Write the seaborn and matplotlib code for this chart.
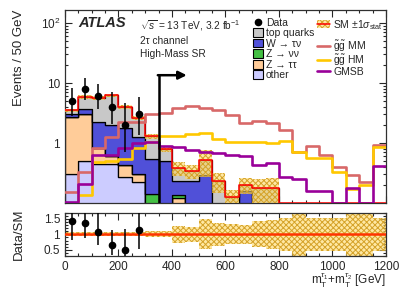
import numpy as np
import pandas as pd
import matplotlib
matplotlib.use("Agg")
import matplotlib.pyplot as plt
import seaborn as sns
from matplotlib.patches import Patch
from matplotlib.lines import Line2D
from matplotlib.ticker import FuncFormatter, MultipleLocator, LogLocator, NullFormatter, FixedLocator

# ---------------- data ----------------
bin_width = 50
x_max = 1200
processes = ["top quarks", "W \u2192 \u03c4\u03bd", "Z \u2192 \u03bd\u03bd", "Z \u2192 \u03c4\u03c4", "other"]

top_quarks = [0.40, 2.20, 3.33, 4.20, 2.24, 1.33, 0.75, 0.30, 0.15, 0.105, 0.23, 0.18,
              0.055, 0.04, 0.10, 0.08, 0.03, 0.015, 0.015, 0.015, 0.015, 0.01, 0.01, 0.01]
w_taunu = [0.40, 0.60, 1.45, 1.40, 1.33, 0.96, 0.41, 0.43, 0.095, 0.195, 0.27, 0.04,
           0.06, 0.15, 0.06, 0.08, 0.02, 0.01, 0.015, 0.015, 0.01, 0.005, 0.005, 0.01]
z_nunu = [0.0, 0.0, 0.0, 0.0, 0.0, 0.0, 0.06, 0.01, 0.015, 0.0, 0.0, 0.0,
          0.0, 0.0, 0.0, 0.0, 0.0, 0.0, 0.0, 0.0, 0.0, 0.0, 0.0, 0.0]
z_tautau = [2.40, 2.60, 0.37, 0.15, 0.16, 0.083, 0.03, 0.02, 0.03, 0.01, 0.0, 0.0,
            0.0, 0.0, 0.0, 0.0, 0.0, 0.0, 0.0, 0.0, 0.0, 0.0, 0.0, 0.0]
other = [0.30, 0.50, 0.45, 0.45, 0.27, 0.227, 0.05, 0.04, 0.09, 0.03, 0.02, 0.01,
         0.01, 0.01, 0.015, 0.02, 0.01, 0.005, 0.01, 0.01, 0.005, 0.005, 0.005, 0.01]

sm_stat_rel = [0.065, 0.065, 0.065, 0.065, 0.065, 0.065, 0.10, 0.10, 0.27, 0.25, 0.48, 0.37,
               0.32, 0.30, 0.42, 0.47, 0.54, 0.75, 0.54, 0.54, 0.54, 0.75, 0.75, 0.54]

gg_mm = [0.154, 0.33, 0.82, 1.27, 2.27, 2.27, 3.0, 3.2, 3.85, 4.1, 3.9, 3.5,
         2.9, 2.15, 2.3, 2.18, 1.65, 0.72, 0.89, 0.63, 0.40, 0.29, 0.227, 0.93]
gg_hm = [0.05, 0.136, 0.49, 0.5, 0.55, 0.82, 1.05, 1.3, 1.3, 1.4, 1.45, 1.15,
         1.02, 1.02, 1.05, 1.0, 1.08, 0.72, 0.57, 0.57, 0.33, 0.17, 0.2, 0.87]
gmsb = [0.105, 0.21, 0.63, 0.63, 0.82, 1.0, 1.02, 0.89, 0.85, 0.76, 0.72, 0.67,
        0.63, 0.6, 0.43, 0.47, 0.27, 0.25, 0.16, 0.16, 0.0, 0.18, 0.0, 0.42]

data_counts = [5, 8, 6, 4, 2, 3]
data_err_lo = [2.16, 2.77, 2.38, 1.91, 1.29, 1.63]
data_err_hi = [3.38, 3.94, 3.58, 3.16, 2.64, 2.92]

cut_value = 350

# ---------------- style ----------------
sns.set_theme(style="ticks")
plt.rcParams["font.family"] = ["Liberation Sans", "DejaVu Sans"]
plt.rcParams["mathtext.fontset"] = "custom"
plt.rcParams["mathtext.rm"] = "Liberation Sans"
plt.rcParams["mathtext.it"] = "Liberation Sans:italic"
plt.rcParams["mathtext.bf"] = "Liberation Sans:bold"
plt.rcParams["hatch.linewidth"] = 0.7

colors = {"top quarks": "#c8c8c8", processes[1]: "#5050d8", processes[2]: "#44c044",
          processes[3]: "#ffcc99", "other": "#ccccff"}
c_mm, c_hm, c_gmsb = "#d86868", "#ffc800", "#990099"
band_face = (1.0, 0.85, 0.40, 0.6)
band_hatch = "#d5a228"
band_pattern = "xxxxxx"

edges = np.arange(0, x_max + bin_width, bin_width)
centers = edges[:-1] + bin_width / 2
nb = len(centers)
y_low, y_high = 0.1, 165

fig = plt.figure(figsize=(4.07, 2.92), dpi=100)
ax = fig.add_axes([0.1597, 0.3048, 0.7887, 0.661])
ax2 = fig.add_axes([0.1597, 0.1233, 0.7887, 0.1483], sharex=ax)

# stacked backgrounds
comp = {"top quarks": top_quarks, processes[1]: w_taunu, processes[2]: z_nunu,
        processes[3]: z_tautau, "other": other}
df = pd.DataFrame({
    "x": np.concatenate([centers] * len(processes)),
    "w": np.concatenate([comp[p] for p in processes]),
    "process": np.repeat(processes, nb),
})
sns.histplot(data=df, x="x", weights="w", hue="process", hue_order=processes,
             bins=edges.tolist(), multiple="stack", element="step", palette=colors,
             alpha=1, linewidth=0.9, edgecolor="black", legend=False, ax=ax)
ax.set_yscale("log")

sm = np.sum([np.array(comp[p]) for p in processes], axis=0)
rel = np.array(sm_stat_rel)

def stepped(v):
    v = np.asarray(v, dtype=float)
    return np.append(v, v[-1])

# SM stat band + line
ax.fill_between(edges, stepped(sm * (1 - rel)), stepped(sm * (1 + rel)), step="post",
                facecolor=band_face, hatch=band_pattern, edgecolor=band_hatch, linewidth=0, zorder=3)
ax.step(edges, stepped(np.maximum(sm, y_low * 1.01)), where="post", color="#ff0000", lw=1.1, zorder=4)

# signals
for vals, c in [(gg_mm, c_mm), (gg_hm, c_hm), (gmsb, c_gmsb)]:
    sns.lineplot(x=edges, y=stepped(np.maximum(vals, y_low * 1.01)), drawstyle="steps-post",
                 color=c, lw=1.9, ax=ax, zorder=5)

# data
ax.errorbar(centers[:len(data_counts)], data_counts, yerr=[data_err_lo, data_err_hi],
            fmt="o", color="black", ms=4.5, lw=1.1, capsize=0, zorder=6)

# cut arrow
arrow_y, arrow_end = 13.5, 455
ax.plot([cut_value, cut_value], [y_low, arrow_y], color="black", lw=1.8, zorder=7)
ax.annotate("", xy=(arrow_end, arrow_y), xytext=(cut_value - 3, arrow_y),
            arrowprops=dict(arrowstyle="-|>", color="black", lw=1.8, mutation_scale=12,
                            shrinkA=0, shrinkB=0), zorder=7)

ax.set_xlim(0, x_max)
ax.set_ylim(y_low, y_high)
ax.set_ylabel("Events / 50 GeV", fontsize=9.5, loc="top")
ax.set_xlabel("")
ax.yaxis.set_major_locator(FixedLocator([1, 10, 100]))
ax.yaxis.set_major_formatter(FuncFormatter(
    lambda v, p: {1: "1", 10: "10", 100: r"10$^{2}$"}.get(int(round(v)), "")))
ax.yaxis.set_minor_locator(LogLocator(base=10, subs=np.arange(2, 10)))
ax.yaxis.set_minor_formatter(NullFormatter())

# text
ax.text(0.04, 0.93, "ATLAS", transform=ax.transAxes, fontsize=10.5, fontweight="bold",
        fontstyle="italic", va="center")
ax.text(0.235, 0.92, r"$\sqrt{s}$ = 13 TeV, 3.2 fb$^{-1}$", transform=ax.transAxes,
        fontsize=7.3, va="center")
ax.text(0.235, 0.838, "2\u03c4 channel", transform=ax.transAxes, fontsize=7.3, va="center")
ax.text(0.235, 0.77, "High-Mass SR", transform=ax.transAxes, fontsize=7.3, va="center")

# legends
h_left = [Line2D([], [], marker="o", color="black", ls="none", ms=4.5)] + \
         [Patch(facecolor=colors[p], edgecolor="black", lw=0.8) for p in processes]
l_left = ["Data"] + processes
leg1 = ax.legend(h_left, l_left, loc="upper left", bbox_to_anchor=(0.57, 0.987), fontsize=7.5,
                 frameon=False, handlelength=0.9, handleheight=0.9, handletextpad=0.3,
                 labelspacing=0.05, borderaxespad=0.2, borderpad=0.3)
ax.add_artist(leg1)
sm_handle = (Patch(facecolor=band_face, hatch=band_pattern, edgecolor=band_hatch, lw=0),
             Line2D([], [], color="#ff0000", lw=1.1))
h_right = [sm_handle, Patch(facecolor="none", edgecolor="none"),
           Line2D([], [], color=c_mm, lw=1.9), Line2D([], [], color=c_hm, lw=1.9),
           Line2D([], [], color=c_gmsb, lw=1.9)]
l_right = [r"SM $\pm$1$\sigma_{\mathrm{stat}}$", " ",
           r"$\tilde{\mathrm{g}}\tilde{\mathrm{g}}$ MM", r"$\tilde{\mathrm{g}}\tilde{\mathrm{g}}$ HM", "GMSB"]
ax.legend(h_right, l_right, loc="upper left", bbox_to_anchor=(0.77, 0.987), fontsize=7.5,
          frameon=False, handlelength=1.2, handleheight=0.9, handletextpad=0.3,
          labelspacing=-0.12, borderaxespad=0.2, borderpad=0.3)

# ---------------- ratio ----------------
ax2.fill_between(edges, stepped(1 - rel), stepped(1 + rel), step="post", facecolor=band_face,
                 hatch=band_pattern, edgecolor=band_hatch, linewidth=0, zorder=2)
ax2.axhline(1, color="#ff3300", lw=1.8, zorder=3)
nd = len(data_counts)
ratio = np.array(data_counts) / sm[:nd]
ax2.errorbar(centers[:nd], ratio, yerr=[np.array(data_err_lo) / sm[:nd], np.array(data_err_hi) / sm[:nd]],
             fmt="o", color="black", ms=4.5, lw=1.1, capsize=0, zorder=4)
ax2.set_ylim(0.3, 1.7)
ax2.set_xlim(0, x_max)
ax2.yaxis.set_major_locator(FixedLocator([0.5, 1, 1.5]))
ax2.yaxis.set_major_formatter(FuncFormatter(lambda v, p: "1" if v == 1 else f"{v:g}"))
ax2.yaxis.set_minor_locator(MultipleLocator(0.1))
ax2.xaxis.set_major_locator(MultipleLocator(200))
ax2.xaxis.set_minor_locator(MultipleLocator(50))
ax2.set_ylabel("Data/SM", fontsize=9.5)
ax2.set_xlabel(r"m$_{\mathrm{T}}^{\tau_1}$+m$_{\mathrm{T}}^{\tau_2}$ [GeV]", fontsize=8.5, loc="right")

for a in (ax, ax2):
    a.tick_params(which="both", direction="in", top=True, right=True, labelsize=8.5, width=0.8)
    a.tick_params(which="major", length=5)
    a.tick_params(which="minor", length=2.5)
    for s in a.spines.values():
        s.set_linewidth(0.9)
        s.set_color("#303030")
ax.tick_params(labelbottom=False)
ax.yaxis.set_label_coords(-0.125, 1.0)
ax2.yaxis.set_label_coords(-0.125, 0.5)
ax2.xaxis.set_label_coords(1.0, -0.36)

fig.savefig("out.png", dpi=100)
